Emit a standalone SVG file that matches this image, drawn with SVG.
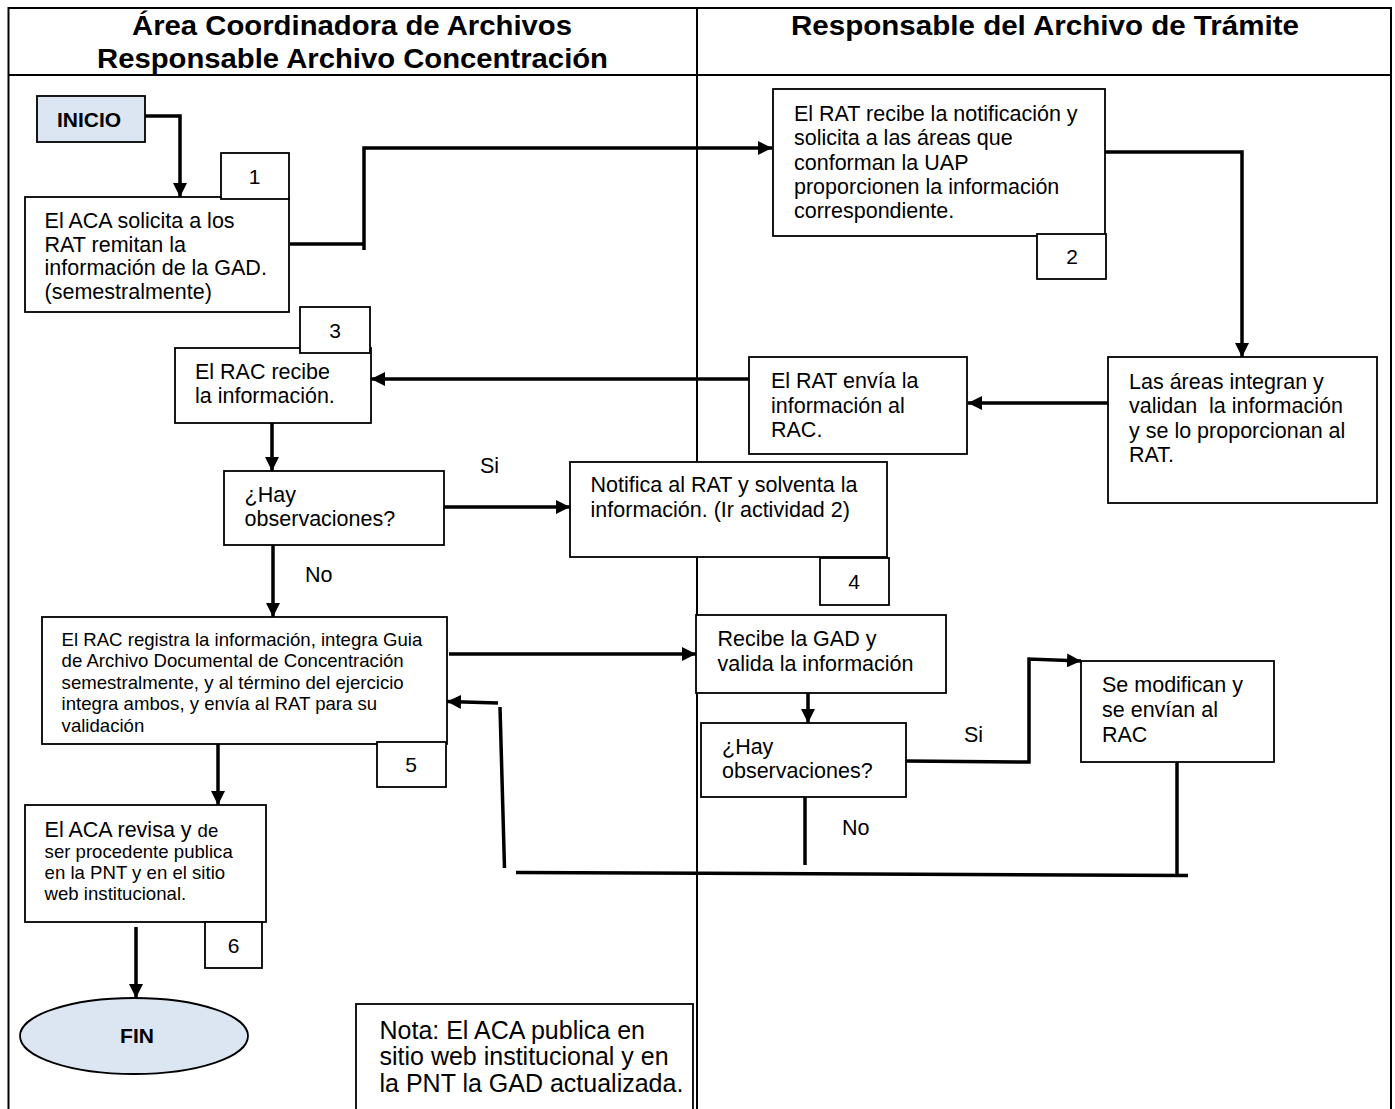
<svg xmlns="http://www.w3.org/2000/svg" width="1395" height="1109" viewBox="0 0 1395 1109">
<style>
text{font-family:"Liberation Sans",Arial,sans-serif;fill:#000}
.h{font-size:27px;font-weight:bold;text-anchor:middle}
.t{font-size:21.5px}
.s{font-size:18.6px}
.n{font-size:21px;text-anchor:middle}
.b{font-size:21px;font-weight:bold;text-anchor:middle}
.box{fill:#fff;stroke:#000;stroke-width:1.8}
.blue{fill:#dce6f2;stroke:#000;stroke-width:1.8}
.frame{fill:none;stroke:#000;stroke-width:2}
.c{fill:none;stroke:#000;stroke-width:3.5}
.a{marker-end:url(#ah)}
</style>
<defs>
<marker id="ah" markerUnits="userSpaceOnUse" markerWidth="15" markerHeight="14" refX="14" refY="7" orient="auto">
<path d="M0,0 L14,7 L0,14 z" fill="#000"/>
</marker>
</defs>
<rect width="1395" height="1109" fill="#fff"/>
<g id="frame">
<path class="frame" d="M8.5,1109 V8 H1391 V1109 M8.5,75 H1391 M697,8 V1109"/>
<text class="h" x="352" y="35" textLength="440" lengthAdjust="spacingAndGlyphs">Área Coordinadora de Archivos</text>
<text class="h" x="352.5" y="68" textLength="511" lengthAdjust="spacingAndGlyphs">Responsable Archivo Concentración</text>
<text class="h" x="1045" y="34.5" textLength="508" lengthAdjust="spacingAndGlyphs">Responsable del Archivo de Trámite</text>
</g>
<g id="connectors">
<path class="c a" d="M145,116 H180 V197"/>
<path class="c" d="M290,244 H364"/>
<path class="c a" d="M364,250 V148 H772"/>
<path class="c a" d="M1105,152 H1242 V357"/>
<path class="c a" d="M1108,403 H968"/>
<path class="c a" d="M749,379 H371"/>
<path class="c a" d="M272,417 V471"/>
<path class="c a" d="M442,507 H570"/>
<path class="c a" d="M273,545 V617"/>
<path class="c a" d="M449,654 H696"/>
<path class="c a" d="M808,687 V723"/>
<path class="c a" d="M906,761 L1029,762 V659 L1081,661"/>
<path class="c" d="M1177,762 V875"/>
<path class="c" d="M805,797 V865"/>
<path class="c" d="M516,872.5 L1188,875.5"/>
<path class="c" d="M504.5,868 L500,707"/>
<path class="c a" d="M498,703 L447,701.5"/>
<path class="c a" d="M218,739 V805"/>
<path class="c a" d="M136,927 V998"/>
<text class="t" x="480" y="473">Si</text>
<text class="t" x="305" y="582">No</text>
<text class="t" x="964" y="742">Si</text>
<text class="t" x="842" y="835">No</text>
</g>
<g id="inicio">
<rect class="blue" x="37" y="96" width="108" height="46"/>
<text class="b" x="89" y="127">INICIO</text>
</g>
<g id="n1">
<rect class="box" x="25" y="197" width="264" height="115"/>
<text class="t" x="44.6" y="228">El ACA solicita a los</text>
<text class="t" x="44.6" y="251.5">RAT remitan la</text>
<text class="t" x="44.6" y="275">información de la GAD.</text>
<text class="t" x="44.6" y="298.5">(semestralmente)</text>
</g>
<g id="num1">
<rect class="box" x="221" y="153" width="68" height="46"/>
<text class="n" x="254.5" y="183.5">1</text>
</g>
<g id="n2">
<rect class="box" x="773" y="89" width="332" height="147"/>
<text class="t" x="794" y="120.7">El RAT recibe la notificación y</text>
<text class="t" x="794" y="145">solicita a las áreas que</text>
<text class="t" x="794" y="169.5">conforman la UAP</text>
<text class="t" x="794" y="194">proporcionen la información</text>
<text class="t" x="794" y="218.3">correspondiente.</text>
</g>
<g id="num2">
<rect class="box" x="1037" y="234" width="69" height="45"/>
<text class="n" x="1072" y="264">2</text>
</g>
<g id="areas">
<rect class="box" x="1108" y="357" width="269" height="146"/>
<text class="t" x="1129" y="389">Las áreas integran y</text>
<text class="t" x="1129" y="413" style="white-space:pre">validan  la información</text>
<text class="t" x="1129" y="437.5">y se lo proporcionan al</text>
<text class="t" x="1129" y="461.7">RAT.</text>
</g>
<g id="envia">
<rect class="box" x="749" y="357" width="218" height="97"/>
<text class="t" x="771" y="388.3">El RAT envía la</text>
<text class="t" x="771" y="412.8">información al</text>
<text class="t" x="771" y="437.3">RAC.</text>
</g>
<g id="n3">
<rect class="box" x="175" y="348" width="196" height="75"/>
<text class="t" x="195" y="379">El RAC recibe</text>
<text class="t" x="195" y="403">la información.</text>
</g>
<g id="num3">
<rect class="box" x="300" y="307" width="70" height="46"/>
<text class="n" x="335" y="337.5">3</text>
</g>
<g id="hay1">
<rect class="box" x="224" y="471" width="220" height="74"/>
<text class="t" x="244.6" y="502">¿Hay</text>
<text class="t" x="244.6" y="526">observaciones?</text>
</g>
<g id="n4">
<rect class="box" x="570" y="462" width="317" height="95"/>
<text class="t" x="590.6" y="492">Notifica al RAT y solventa la</text>
<text class="t" x="590.6" y="516.7">información. (Ir actividad 2)</text>
</g>
<g id="num4">
<rect class="box" x="820" y="558" width="69" height="47"/>
<text class="n" x="854" y="589">4</text>
</g>
<g id="n5">
<rect class="box" x="42" y="617" width="405" height="127"/>
<text class="s" x="61.6" y="645.7">El RAC registra la información, integra Guia</text>
<text class="s" x="61.6" y="667.2">de Archivo Documental de Concentración</text>
<text class="s" x="61.6" y="688.7">semestralmente, y al término del ejercicio</text>
<text class="s" x="61.6" y="710.2">integra ambos, y envía al RAT para su</text>
<text class="s" x="61.6" y="731.7">validación</text>
</g>
<g id="num5">
<rect class="box" x="377" y="742" width="69" height="45"/>
<text class="n" x="411" y="772">5</text>
</g>
<g id="recibe">
<rect class="box" x="696" y="615" width="250" height="78"/>
<text class="t" x="717.5" y="645.7">Recibe la GAD y</text>
<text class="t" x="717.5" y="670.7">valida la información</text>
</g>
<g id="hay2">
<rect class="box" x="701" y="723" width="205" height="74"/>
<text class="t" x="722" y="754">¿Hay</text>
<text class="t" x="722" y="777.7">observaciones?</text>
</g>
<g id="modifican">
<rect class="box" x="1081" y="661" width="193" height="101"/>
<text class="t" x="1102" y="692.3">Se modifican y</text>
<text class="t" x="1102" y="716.7">se envían al</text>
<text class="t" x="1102" y="741.7">RAC</text>
</g>
<g id="n6">
<rect class="box" x="25" y="805" width="241" height="117"/>
<text class="t" x="44.6" y="837">El ACA revisa y <tspan class="s">de</tspan></text>
<text class="s" x="44.6" y="858">ser procedente publica</text>
<text class="s" x="44.6" y="879">en la PNT y en el sitio</text>
<text class="s" x="44.6" y="900">web institucional.</text>
</g>
<g id="num6">
<rect class="box" x="205" y="922" width="57" height="46"/>
<text class="n" x="233.5" y="952.5">6</text>
</g>
<g id="fin">
<ellipse class="blue" cx="134" cy="1036" rx="114" ry="38"/>
<text class="b" x="137" y="1043">FIN</text>
</g>
<g id="nota">
<rect class="box" x="356" y="1004" width="337" height="110"/>
<text x="379.5" y="1039" style="font-size:25px">Nota: El ACA publica en</text>
<text x="379.5" y="1065" style="font-size:25px">sitio web institucional y en</text>
<text x="379.5" y="1092" style="font-size:25px">la PNT la GAD actualizada.</text>
</g>
</svg>
